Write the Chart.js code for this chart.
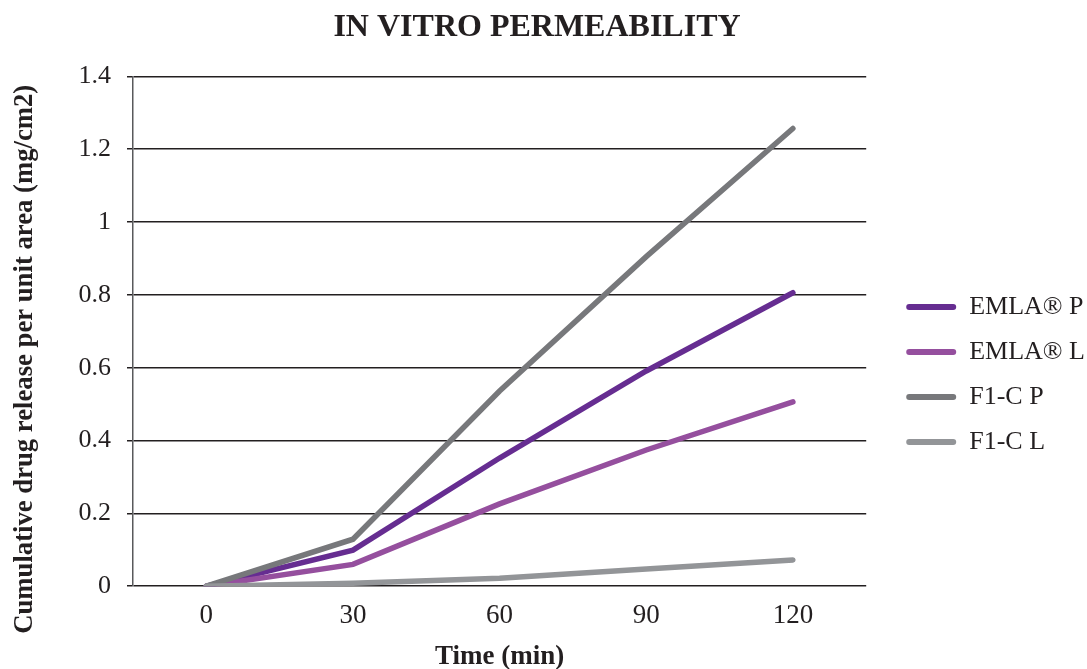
<!DOCTYPE html>
<html>
<head>
<meta charset="utf-8">
<style>
  html, body { margin: 0; padding: 0; background: #ffffff; }
  #wrap { width: 1087px; height: 669px; }
</style>
<script src="https://cdn.jsdelivr.net/npm/chart.js@4/dist/chart.umd.min.js"></script>
</head>
<body>
<div id="wrap"><canvas id="chart" width="1087" height="669"></canvas></div>
<script>
// Sampling times (min)
const times = ['0', '30', '60', '90', '120'];

// Cumulative drug release per unit area (mg/cm2)
const emlaP = [0, 0.099, 0.352, 0.591, 0.806];
const emlaL = [0, 0.060, 0.226, 0.374, 0.506];
const f1cP  = [0, 0.129, 0.536, 0.905, 1.257];
const f1cL  = [0, 0.008, 0.022, 0.047, 0.072];

const seriesNames = ['EMLA® P', 'EMLA® L', 'F1-C P', 'F1-C L'];
const seriesColors = ['#662d91', '#954f9e', '#77787b', '#939598'];
const seriesValues = [emlaP, emlaL, f1cP, f1cL];

const yTicks = [0, 0.2, 0.4, 0.6, 0.8, 1, 1.2, 1.4];

const yTitle = 'Cumulative drug release per unit area (mg/cm2)';

const serif = '"Liberation Serif", "Times New Roman", serif';
const ink = '#231f20';

const datasets = seriesValues.map((vals, i) => ({
  label: seriesNames[i],
  data: vals,
  borderColor: seriesColors[i],
  backgroundColor: seriesColors[i],
  borderWidth: 5.5,
  borderCapStyle: 'round',
  borderJoinStyle: 'miter',
  pointRadius: 0,
  pointHoverRadius: 0,
  tension: 0,
  fill: false,
  // later series are painted over earlier ones
  order: seriesValues.length - i
}));

// Rotated value-axis title, set a little below the middle of the plot
const yTitlePlugin = {
  id: 'yTitle',
  afterDraw(chart) {
    const { ctx, chartArea } = chart;
    const cy = (chartArea.top + chartArea.bottom) / 2 + 28;
    ctx.save();
    ctx.translate(25, cy);
    ctx.rotate(-Math.PI / 2);
    ctx.fillStyle = ink;
    ctx.font = 'bold 26.7px ' + serif;
    ctx.textAlign = 'center';
    ctx.textBaseline = 'middle';
    ctx.fillText(yTitle, 0, 0);
    ctx.restore();
  }
};

// Leave some air between the plot and the legend
const legendGap = 21;
const legendShiftPlugin = {
  id: 'legendShift',
  afterLayout(chart) {
    if (chart.legend) {
      chart.legend.left += legendGap;
      chart.legend.right += legendGap;
    }
  }
};

new Chart(document.getElementById('chart'), {
  type: 'line',
  data: { labels: times, datasets },
  plugins: [yTitlePlugin, legendShiftPlugin],
  options: {
    responsive: false,
    animation: false,
    devicePixelRatio: 1,
    layout: { padding: { left: 0, right: 13, top: 0, bottom: 0 } },
    plugins: {
      title: {
        display: true,
        text: 'IN VITRO PERMEABILITY',
        color: ink,
        font: { family: serif, size: 32, weight: 'bold' },
        padding: { top: 9, bottom: 29 }
      },
      legend: {
        position: 'right',
        align: 'center',
        title: { display: true, text: '', font: { size: 10 }, padding: { top: 68, bottom: 0 } },
        labels: {
          color: ink,
          font: { family: serif, size: 26 },
          boxWidth: 50,
          boxHeight: 6,
          padding: 19,
          useBorderRadius: true,
          generateLabels(chart) {
            return chart.data.datasets.map((ds, i) => ({
              text: ds.label,
              fillStyle: ds.borderColor,
              strokeStyle: ds.borderColor,
              fontColor: ink,
              lineWidth: 0,
              borderRadius: 3,
              hidden: false,
              datasetIndex: i
            }));
          }
        }
      },
      tooltip: { enabled: false }
    },
    scales: {
      x: {
        type: 'category',
        offset: true,
        grid: { display: false, drawTicks: false },
        border: { display: false },
        ticks: {
          color: ink,
          font: { family: serif, size: 27 },
          padding: 14
        },
        title: {
          display: true,
          text: 'Time (min)',
          color: ink,
          font: { family: serif, size: 27, weight: 'bold' },
          padding: { top: -6, bottom: -4 }
        }
      },
      y: {
        min: 0,
        max: 1.4,
        afterBuildTicks(scale) {
          scale.ticks = yTicks.map(v => ({ value: v }));
        },
        afterFit(scale) { scale.width = 133; },
        grid: {
          color: ink,
          lineWidth: 1.5,
          tickLength: 6,
          drawTicks: true
        },
        border: { display: true, color: '#58595b', width: 1.5 },
        ticks: {
          color: ink,
          font: { family: serif, size: 26 },
          padding: 16,
          callback: (v) => String(Math.round(v * 10) / 10)
        }
      }
    }
  }
});
</script>
</body>
</html>
